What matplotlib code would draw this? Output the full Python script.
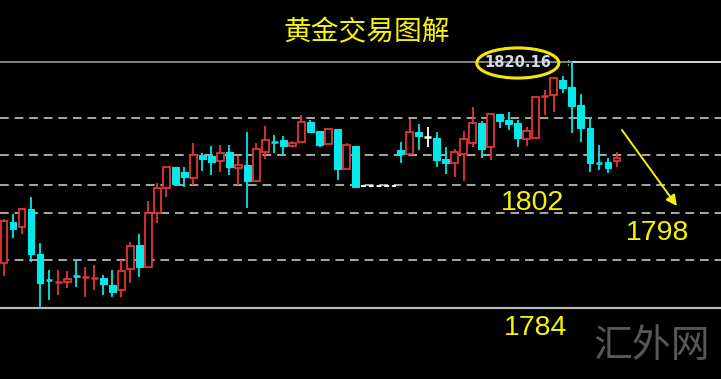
import matplotlib
matplotlib.use("Agg")
import matplotlib.pyplot as plt
from matplotlib.patches import Ellipse

plt.rcParams['font.family'] = ['Noto Sans CJK SC', 'DejaVu Sans']

# ---- data ----
idx = list(range(0, 40)) + list(range(44, 69))
opens = [1790.86, 1796.71, 1796.00, 1798.57, 1792.14, 1788.57, 1788.00, 1788.14, 1789.14, 1788.71,
         1788.57, 1788.71, 1787.71, 1787.00, 1790.00, 1793.43, 1790.29, 1798.00, 1801.57, 1804.57,
         1803.86, 1803.00, 1806.29, 1806.14, 1805.43, 1806.71, 1804.43, 1804.86, 1802.57, 1806.71,
         1808.29, 1808.43, 1807.57, 1808.14, 1811.00, 1809.71, 1807.86, 1810.00, 1804.29, 1807.57,
         1807.00, 1806.43, 1809.57, 1808.86, 1808.71, 1805.71, 1805.14, 1806.43, 1808.00, 1810.86,
         1807.43, 1812.14, 1811.29, 1810.86, 1808.57, 1808.71, 1814.57, 1814.86, 1817.00, 1816.00,
         1813.43, 1810.14, 1805.29, 1805.29, 1805.43]
highs = [1797.14, 1797.86, 1798.71, 1800.29, 1793.71, 1789.86, 1789.86, 1789.71, 1791.29, 1790.29,
         1790.57, 1789.14, 1789.86, 1791.29, 1793.86, 1795.00, 1799.71, 1802.29, 1804.57, 1804.57,
         1804.57, 1808.00, 1806.57, 1807.57, 1807.71, 1807.71, 1806.14, 1809.57, 1808.00, 1810.43,
         1809.14, 1809.00, 1808.29, 1812.00, 1811.29, 1809.71, 1810.00, 1810.00, 1808.00, 1807.57,
         1808.14, 1811.43, 1810.71, 1810.29, 1809.57, 1807.43, 1807.14, 1809.71, 1813.14, 1811.14,
         1812.14, 1812.14, 1812.43, 1811.29, 1810.29, 1814.57, 1815.57, 1817.29, 1817.57, 1819.60,
         1815.00, 1811.57, 1807.71, 1805.86, 1806.71]
lows = [1789.00, 1794.43, 1795.00, 1791.00, 1784.43, 1785.57, 1786.29, 1787.29, 1787.43, 1786.00,
        1787.00, 1786.29, 1786.00, 1786.00, 1788.00, 1788.86, 1790.29, 1796.57, 1800.29, 1801.86,
        1801.71, 1802.00, 1804.00, 1803.43, 1803.86, 1803.43, 1802.00, 1798.71, 1802.57, 1805.71,
        1806.57, 1806.29, 1807.43, 1808.14, 1809.57, 1807.43, 1807.86, 1802.71, 1804.29, 1801.71,
        1805.14, 1806.29, 1807.00, 1807.43, 1804.57, 1803.57, 1803.14, 1802.57, 1807.43, 1805.86,
        1805.57, 1810.14, 1809.86, 1807.43, 1807.57, 1808.71, 1812.00, 1812.43, 1815.14, 1809.43,
        1808.14, 1803.86, 1804.14, 1803.71, 1804.57]
closes = [1796.86, 1795.71, 1798.57, 1792.14, 1788.00, 1788.29, 1788.29, 1788.57, 1788.86, 1789.00,
          1788.86, 1787.86, 1786.71, 1789.71, 1793.29, 1790.29, 1798.00, 1801.57, 1804.57, 1802.14,
          1803.14, 1806.29, 1805.71, 1805.29, 1806.57, 1804.57, 1804.86, 1802.57, 1807.14, 1808.43,
          1808.14, 1807.57, 1808.00, 1811.00, 1809.57, 1807.71, 1810.00, 1804.29, 1807.71, 1801.71,
          1806.43, 1809.57, 1809.00, 1808.86, 1805.57, 1805.14, 1806.71, 1808.57, 1810.86, 1807.14,
          1812.14, 1811.14, 1810.71, 1808.71, 1809.71, 1814.57, 1814.86, 1817.29, 1815.86, 1813.29,
          1810.14, 1805.14, 1805.14, 1804.43, 1805.86]
white_doji = [47]
gap_price = 1801.86
gap_start, gap_end = 39.6, 43.5

solid_levels = [1819.60, 1784.43]
dashed_levels = [1811.57, 1806.29, 1802.00, 1798.00, 1791.29]
peak_label = "1820.16"
targets = ["1802", "1798", "1784"]
target_x = [58.6, 72.55, 59.0]
target_y = [1799.50, 1795.10, 1781.60]
title = "黄金交易图解"

RED = '#e43434'
CYAN = '#00eaea'

fig = plt.figure(figsize=(7.21, 3.79), dpi=100, facecolor='black')
ax = fig.add_axes([0, 0, 1, 1])
ax.set_facecolor('black')
ax.set_xlim(-0.444, 79.54)
ax.set_ylim(1774.29, 1828.43)
ax.axis('off')

# horizontal levels
for lv in dashed_levels:
    ax.axhline(lv, color='#a8a8a8', lw=1.4, ls=(0, (4.5, 3)), zorder=1)
ax.axhline(solid_levels[0], color='#9a9a9a', lw=1.2, zorder=1)
ax.hlines(solid_levels[0], 63, 79.54, color='#e0e0e0', lw=1.2, zorder=1)
ax.axhline(solid_levels[1], color='#b8b8b8', lw=1.6, zorder=1)

# gap marker
ax.hlines(gap_price, gap_start, gap_end, color='white', lw=1.4, ls=(0, (2.5, 1.5)), zorder=2)

# candles
bw = 0.76
for i, o, h, l, c in zip(idx, opens, highs, lows, closes):
    if i in white_doji:
        col = 'white'
    elif c >= o:
        col = RED
    else:
        col = CYAN
    ax.vlines(i, l, h, color=col, lw=1.3, zorder=3)
    top, bot = max(o, c), min(o, c)
    if top - bot < 0.35:
        ax.hlines((o + c) / 2, i - bw / 2, i + bw / 2, color=col, lw=1.8, zorder=4)
    elif col == RED:
        ax.bar(i, top - bot, bottom=bot, width=bw, facecolor='black', edgecolor=RED, lw=1.3, zorder=4)
    else:
        ax.bar(i, top - bot, bottom=bot, width=bw, facecolor=col, edgecolor=col, lw=0.8, zorder=4)

# peak label with ellipse
ax.text(57.0, 1819.50, peak_label, color='#d4dbe4', fontsize=10.5, fontweight='bold',
        family=['DejaVu Sans'], ha='center', va='center', zorder=5)
ax.add_patch(Ellipse((57.0, 1819.43), 9.1, 4.3, fill=False, edgecolor='#f5e800', lw=2.2, zorder=6))
ax.text(62.6, 1819.5, ':', color='#b0b0b0', fontsize=8, ha='center', va='center', zorder=5)

# arrow
ax.annotate('', xy=(74.65, 1799.0), xytext=(68.55, 1809.86),
            arrowprops=dict(arrowstyle='-|>', color='#f5f500', lw=1.4,
                            mutation_scale=16, shrinkA=0, shrinkB=0), zorder=6)

# targets
for t, x, y in zip(targets, target_x, target_y):
    ax.text(x, y, t, color='#f5f500', fontsize=20.5, family=['Liberation Sans'],
            ha='center', va='center', zorder=6)

fig.text(0.509, 0.915, title, color='#f5f500', fontsize=20, ha='center', va='center')
fig.text(0.904, 0.087, "汇外网", color='#585858', fontsize=28, fontweight='light',
         ha='center', va='center')

fig.savefig('out.png', dpi=100, facecolor='black')
